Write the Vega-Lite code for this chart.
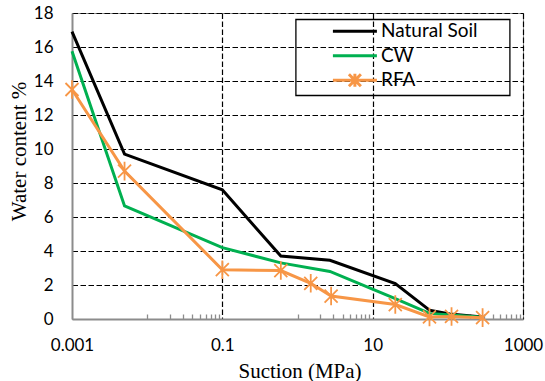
{
  "$schema": "https://vega.github.io/schema/vega-lite/v6.json",
  "width": 451,
  "height": 306,
  "autosize": "none",
  "padding": {"left": 72, "top": 13, "right": 22, "bottom": 62},
  "background": "white",
  "config": {
    "view": {"stroke": "#8c8c8c", "strokeWidth": 1},
    "font": "Lato",
    "legend": {"strokeWidth": 1.3}
  },
  "data": {
    "values": [
      {"series": "Natural Soil", "suction": 0.001, "water": 16.9},
      {"series": "Natural Soil", "suction": 0.005, "water": 9.7},
      {"series": "Natural Soil", "suction": 0.1, "water": 7.6},
      {"series": "Natural Soil", "suction": 0.6, "water": 3.7},
      {"series": "Natural Soil", "suction": 2.7, "water": 3.45},
      {"series": "Natural Soil", "suction": 20, "water": 2.08},
      {"series": "Natural Soil", "suction": 57, "water": 0.52},
      {"series": "Natural Soil", "suction": 106, "water": 0.3},
      {"series": "Natural Soil", "suction": 290, "water": 0.12},
      {"series": "CW", "suction": 0.001, "water": 15.75},
      {"series": "CW", "suction": 0.005, "water": 6.65},
      {"series": "CW", "suction": 0.1, "water": 4.2},
      {"series": "CW", "suction": 0.6, "water": 3.3},
      {"series": "CW", "suction": 2.7, "water": 2.8},
      {"series": "CW", "suction": 20, "water": 1.2},
      {"series": "CW", "suction": 57, "water": 0.33},
      {"series": "CW", "suction": 290, "water": 0.1},
      {"series": "RFA", "suction": 0.001, "water": 13.5},
      {"series": "RFA", "suction": 0.005, "water": 8.7},
      {"series": "RFA", "suction": 0.1, "water": 2.9},
      {"series": "RFA", "suction": 0.6, "water": 2.85},
      {"series": "RFA", "suction": 1.5, "water": 2.1},
      {"series": "RFA", "suction": 2.8, "water": 1.35},
      {"series": "RFA", "suction": 20, "water": 0.85},
      {"series": "RFA", "suction": 57, "water": 0.12},
      {"series": "RFA", "suction": 112, "water": 0.15},
      {"series": "RFA", "suction": 290, "water": 0.08}
    ]
  },
  "encoding": {
    "x": {
      "field": "suction",
      "type": "quantitative",
      "title": "Suction (MPa)",
      "scale": {"type": "log", "domain": [0.001, 1000], "nice": false},
      "axis": {
        "values": [0.001, 0.01, 0.02, 0.03, 0.04, 0.05, 0.06, 0.07, 0.08, 0.09, 0.1, 1, 2, 3, 4, 5, 6, 7, 8, 9, 10, 100, 200, 300, 400, 500, 600, 700, 800, 900, 1000],
        "labelExpr": "datum.value == 0.001 ? '0.001' : datum.value == 0.1 ? '0.1' : datum.value == 10 ? '10' : datum.value == 1000 ? '1000' : ''",
        "labelOverlap": false,
        "labelFlush": false,
        "labelFont": "Lato",
        "labelFontSize": 17,
        "labelColor": "black",
        "labelBaseline": "alphabetic",
        "labelPadding": 36,
        "tickSize": -5,
        "tickColor": "#8c8c8c",
        "tickWidth": 1.3,
        "tickOpacity": {"condition": {"test": "datum.value == 0.001 || datum.value == 0.1 || datum.value == 10 || datum.value == 1000", "value": 0}, "value": 1},
        "grid": true,
        "gridColor": "black",
        "gridDash": [5.5, 2.5],
        "gridWidth": 1.2,
        "gridOpacity": {"condition": {"test": "datum.value == 0.1 || datum.value == 10 || datum.value == 1000", "value": 1}, "value": 0},
        "domainColor": "#8c8c8c",
        "domainWidth": 2,
        "titleFont": "Liberation Serif",
        "titleFontSize": 21,
        "titleFontWeight": "normal",
        "titleColor": "black",
        "titleX": 227.5,
        "titleY": 58,
        "titleBaseline": "alphabetic"
      }
    },
    "y": {
      "field": "water",
      "type": "quantitative",
      "title": "Water content %",
      "scale": {"domain": [0, 18], "nice": false},
      "axis": {
        "values": [0, 2, 4, 6, 8, 10, 12, 14, 16, 18],
        "ticks": false,
        "labelPadding": 19,
        "labelFont": "Lato",
        "labelFontSize": 17,
        "labelColor": "black",
        "grid": true,
        "gridColor": "black",
        "gridDash": [5.5, 2.5],
        "gridWidth": 1.2,
        "gridOpacity": {"condition": {"test": "datum.value == 0", "value": 0}, "value": 1},
        "domainColor": "#8c8c8c",
        "domainWidth": 2,
        "titleFont": "Liberation Serif",
        "titleFontSize": 21,
        "titleFontWeight": "normal",
        "titleColor": "black",
        "titleX": -53,
        "titleY": 138,
        "titleBaseline": "middle"
      }
    }
  },
  "layer": [
    {
      "mark": {"type": "line", "strokeWidth": 3},
      "encoding": {
        "color": {
          "field": "series",
          "type": "nominal",
          "scale": {"domain": ["Natural Soil", "CW", "RFA"], "range": ["#000000", "#00b050", "#f79646"]}
        }
      }
    },
    {
      "transform": [{"filter": "datum.series === 'RFA'"}],
      "mark": {
        "type": "point",
        "shape": "M-0.7,-0.7L0.7,0.7M-0.7,0.7L0.7,-0.7M0,-1V1",
        "size": 346,
        "filled": false,
        "strokeWidth": 1.8,
        "color": "#f79646",
        "opacity": 1
      }
    },
    {
      "transform": [{"filter": "false"}],
      "mark": {"type": "point", "filled": false, "strokeWidth": 3},
      "encoding": {
        "color": {
          "field": "series",
          "type": "nominal",
          "scale": {"domain": ["Natural Soil", "CW", "RFA"], "range": ["#000000", "#00b050", "#f79646"]},
          "legend": {
            "orient": "none",
            "legendX": 223.7,
            "legendY": 6.3,
            "title": null,
            "padding": 2.5,
            "strokeColor": "black",
            "symbolSize": 100,
            "symbolStrokeWidth": 3,
            "symbolOffset": 47.2,
            "labelOffset": 16.6,
            "labelFont": "Lato",
            "labelFontSize": 19,
            "labelColor": "black",
            "rowPadding": -0.5,
            "symbolOpacity": 1,
            "labelExpr": "datum.label + '\u00a0\u00a0\u00a0\u00a0\u00a0\u00a0\u200b'",
            "encode": {"symbols": {"update": {"strokeJoin": {"value": "round"}}}}
          }
        },
        "shape": {
          "field": "series",
          "type": "nominal",
          "scale": {
            "domain": ["Natural Soil", "CW", "RFA"],
            "range": ["M0,-1.3M0,1.3M-4.4,0H4.4", "M0,-1.3M0,1.3M-4.4,0H4.4", "M-4.4,0H4.4M-1.2,-1.2L1.2,1.2M-1.2,1.2L1.2,-1.2M0,-1.3V1.3"]
          },
          "legend": {
            "orient": "none",
            "legendX": 223.7,
            "legendY": 6.3,
            "title": null
          }
        }
      }
    }
  ]
}
